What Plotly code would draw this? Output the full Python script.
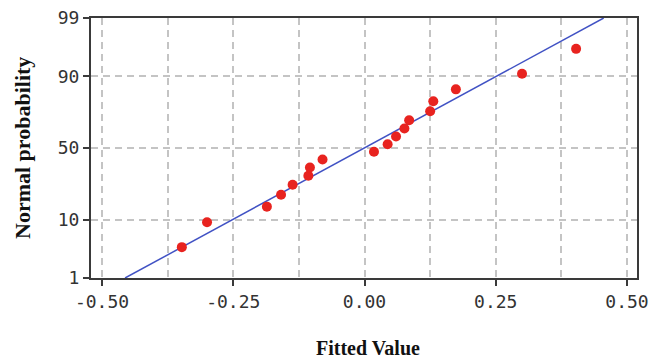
from statistics import NormalDist, mean, stdev
import plotly.graph_objects as go

# Fitted values (sorted) and their normal-probability plotting positions (%)
fitted_values = [-0.348, -0.300, -0.186, -0.159, -0.137, -0.107, -0.104, -0.080,
                 0.018, 0.044, 0.060, 0.076, 0.085, 0.125, 0.131, 0.174, 0.300, 0.403]
probabilities = [3.8, 9.2, 14.7, 20.1, 25.5, 31.0, 36.4, 41.8, 47.3,
                 52.7, 58.2, 63.6, 69.0, 74.5, 79.9, 85.3, 90.8, 96.2]

x_ticks = [-0.50, -0.25, 0.00, 0.25, 0.50]
x_tick_labels = ["-0.50", "-0.25", "0.00", "0.25", "0.50"]
x_minor_grid = [-0.375, -0.125, 0.125, 0.375]
y_tick_percent = [1, 10, 50, 90, 99]

nd = NormalDist()
z = lambda p: nd.inv_cdf(p / 100.0)

point_z = [z(p) for p in probabilities]
tick_z = [z(p) for p in y_tick_percent]
z_lo, z_hi = tick_z[0], tick_z[-1]

# Reference normal line fitted from the sample mean and standard deviation
mu, sigma = mean(fitted_values), stdev(fitted_values)
line_z = [z_lo, z_hi]
line_x = [mu + sigma * zz for zz in line_z]

fig = go.Figure()
fig.add_trace(go.Scatter(x=line_x, y=line_z, mode="lines",
                         line=dict(color="#4152c4", width=1.5),
                         hoverinfo="skip", showlegend=False))
fig.add_trace(go.Scatter(x=fitted_values, y=point_z, mode="markers",
                         marker=dict(color="#e8231f", size=10, line=dict(width=0)),
                         showlegend=False))

grid_color = "#c4c4c4"
axis_color = "#3a3a3a"
dash = "7px,5px"
tick_font = dict(family="DejaVu Sans Mono", size=18, color="#333333")
xtitle_font = dict(family="Liberation Serif", size=20, color="#111111")
ytitle_font = dict(family="Liberation Serif", size=22, color="#111111")

fig.update_xaxes(range=[-0.521, 0.519], tickmode="array", tickvals=x_ticks,
                 ticktext=x_tick_labels, ticks="outside", ticklen=6, tickwidth=1.5,
                 tickcolor=axis_color, showline=True, linecolor=axis_color, linewidth=2,
                 mirror=True, showgrid=True, gridcolor=grid_color, gridwidth=1.5,
                 griddash=dash, zeroline=False, tickfont=tick_font, automargin=False,
                 minor=dict(tickvals=x_minor_grid, showgrid=True, gridcolor=grid_color,
                            gridwidth=1.5, griddash=dash, ticks=""))
fig.update_yaxes(range=[z_lo, z_hi], tickmode="array", tickvals=tick_z,
                 ticktext=[str(p) for p in y_tick_percent], ticks="outside", ticklen=6,
                 tickwidth=1.5, tickcolor=axis_color, showline=True, linecolor=axis_color,
                 linewidth=2, mirror=True, showgrid=True, gridcolor=grid_color,
                 gridwidth=1.5, griddash=dash, zeroline=False, tickfont=tick_font,
                 automargin=False)

# Axis titles placed in paper pixels
fig.add_annotation(text="<b>Fitted Value</b>", xref="paper", yref="paper",
                   x=0.508, y=0, yshift=-70, xanchor="center", yanchor="middle",
                   showarrow=False, font=xtitle_font)
fig.add_annotation(text="<b>Normal probability</b>", xref="paper", yref="paper",
                   x=0, y=0.5, xshift=-69, xanchor="center", yanchor="middle",
                   textangle=-90, showarrow=False, font=ytitle_font)

fig.update_layout(width=664, height=359, margin=dict(l=91, r=27, t=18, b=81),
                  plot_bgcolor="white", paper_bgcolor="white")

fig.write_html("out.html")
